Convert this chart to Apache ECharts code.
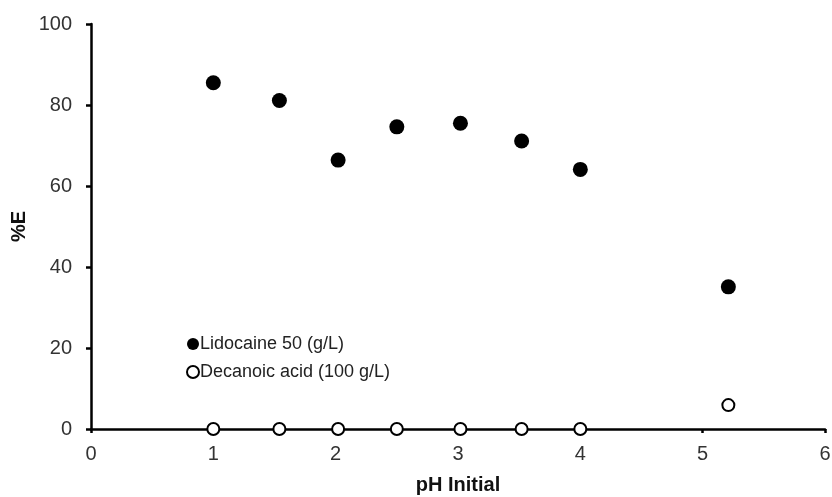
<!DOCTYPE html>
<html>
<head>
<meta charset="utf-8">
<script src="https://cdn.jsdelivr.net/npm/echarts@6/dist/echarts.min.js"></script>
<style>
  html, body { margin: 0; padding: 0; background: #fff; }
  #chart { width: 832px; height: 497px; }
</style>
</head>
<body>
<div id="chart"></div>
<script>
// pH values
const phValues = [1.0, 1.54, 2.02, 2.5, 3.02, 3.52, 4.0, 5.21];
const lidocaineE = [85.5, 81.1, 66.4, 74.6, 75.5, 71.1, 64.1, 35.1];
const decanoicE = [0, 0, 0, 0, 0, 0, 0, 5.9];
const seriesNames = ['Lidocaine 50 (g/L)', 'Decanoic acid (100 g/L)'];

const toPairs = (xs, ys) => xs.map((x, i) => [x, ys[i]]);

const font = 'Arial, "Liberation Sans", sans-serif';

const chart = echarts.init(document.getElementById('chart'));

const option = {
  backgroundColor: '#fff',
  animation: false,
  grid: { left: 91, right: 7, top: 24, bottom: 68, outerBoundsMode: 'none' },
  legend: {
    orient: 'vertical',
    left: 181,
    top: 330,
    itemGap: 10,
    itemWidth: 12,
    itemHeight: 12,
    textStyle: { fontFamily: font, fontSize: 18, color: '#222', padding: [0, 0, 0, -4] },
    data: [seriesNames[0], seriesNames[1]]
  },
  xAxis: {
    type: 'value',
    min: 0,
    max: 6,
    interval: 1,
    name: 'pH Initial',
    nameLocation: 'middle',
    nameGap: 46,
    nameMoveOverlap: false,
    nameTextStyle: { fontFamily: font, fontSize: 20, fontWeight: 'bold', color: '#111' },
    axisLine: { lineStyle: { color: '#000', width: 2.5 } },
    axisTick: { show: true, length: 4, lineStyle: { color: '#000', width: 2.5 } },
    axisLabel: { fontFamily: font, fontSize: 20, color: '#333', margin: 15 },
    splitLine: { show: false }
  },
  yAxis: {
    type: 'value',
    min: 0,
    max: 100,
    interval: 20,
    name: '%E',
    nameLocation: 'middle',
    nameGap: 62,
    nameMoveOverlap: false,
    nameRotate: 90,
    nameTextStyle: { fontFamily: font, fontSize: 20, fontWeight: 'bold', color: '#111' },
    axisLine: { show: true, lineStyle: { color: '#000', width: 2.5 } },
    axisTick: { show: true, length: 5, lineStyle: { color: '#000', width: 2.5 } },
    axisLabel: { fontFamily: font, fontSize: 20, color: '#333', margin: 19 },
    splitLine: { show: false }
  },
  series: [
    {
      name: seriesNames[0],
      type: 'scatter',
      symbol: 'circle',
      symbolSize: 15,
      clip: false,
      itemStyle: { color: '#000', opacity: 1 },
      data: toPairs(phValues, lidocaineE),
      z: 2
    },
    {
      name: seriesNames[1],
      type: 'scatter',
      symbol: 'circle',
      symbolSize: 12,
      clip: false,
      itemStyle: { color: '#fff', borderColor: '#000', borderWidth: 2, opacity: 1 },
      data: toPairs(phValues, decanoicE),
      z: 3
    }
  ]
};

chart.setOption(option);
</script>
</body>
</html>
